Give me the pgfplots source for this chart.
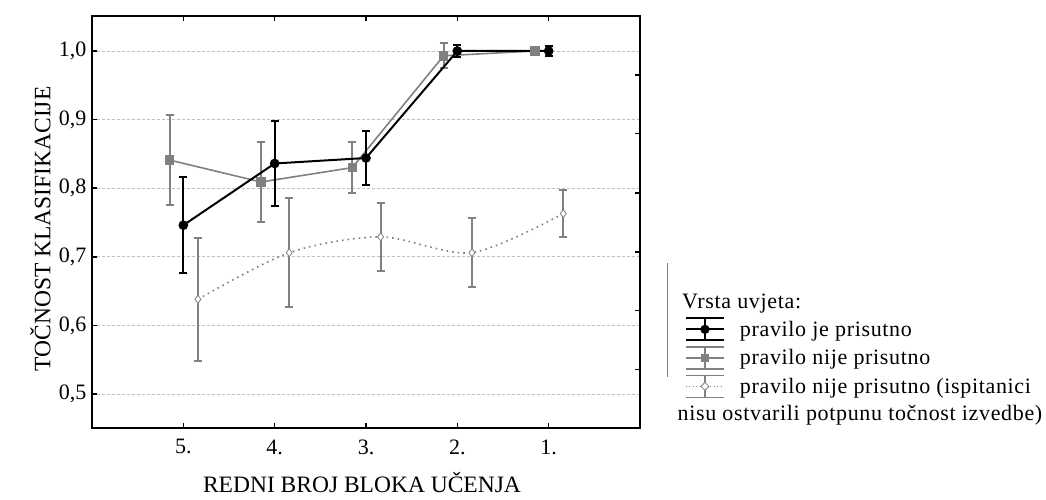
\documentclass[border=0pt]{standalone}
\usepackage{fontspec}
\setmainfont{Liberation Serif}
\newfontfamily\legfont{Liberation Serif}[LetterSpace=3]
\usepackage{pgfplots}
\pgfplotsset{compat=1.18}
\newcommand\ff{\fontsize{22pt}{26pt}\selectfont}
\newcommand\lf{\legfont\fontsize{22pt}{26pt}\selectfont}
\newcommand\af{\fontsize{23.5pt}{28pt}\selectfont}
\definecolor{sgray}{RGB}{128,128,128}
\definecolor{ggray}{RGB}{192,192,192}
\begin{document}
\begin{tikzpicture}
\useasboundingbox (-92pt,-72pt) rectangle (954pt,428pt);
\begin{axis}[
  at={(0pt,0pt)}, anchor=south west,
  scale only axis, width=548pt, height=412pt,
  xmin=0, xmax=6, ymin=0.4504, ymax=1.051,
  clip=false,
  xtick={1,2,3,4,5}, xticklabels={5.,4.,3.,2.,1.},
  ytick={0.5,0.6,0.7,0.8,0.9,1.0},
  ytick pos=left,
  /pgf/number format/assume math mode=true,
  yticklabel style={xshift=-2pt, /pgf/number format/.cd, fixed, fixed zerofill, precision=1, use comma},
  tick label style={font=\ff},
  xticklabel style={yshift=-8pt},
  tick align=inside, major tick length=5pt,
  every tick/.style={black, line width=1.5pt},
  axis line style={line width=2pt},
  ymajorgrids, grid style={ggray, dash pattern=on 3pt off 2pt, line width=0.8pt},
  ylabel={TOČNOST KLASIFIKACIJE},
  xlabel={REDNI BROJ BLOKA UČENJA},
  every axis y label/.style={at={(axis description cs:-0.094,0.483)}, rotate=90, anchor=center, font=\af},
  every axis x label/.style={at={(axis description cs:0.4927,-0.1335)}, anchor=center, font=\af},
  reverse legend,
  legend cell align=left,
  legend style={draw=none, fill=none, at={(axis cs:6.49,0.612)}, anchor=north west, font=\lf, inner sep=0pt, row sep=4.8pt,
     /tikz/every odd column/.append style={column sep=13pt}},
]
% diamonds: pravilo nije prisutno (ispitanici nisu ostvarili...)
\addplot[sgray, line width=1.6pt, dash pattern=on 1.6pt off 4pt, smooth, tension=0.5,
   mark=diamond*, mark size=4pt, mark options={solid, fill=white, draw=sgray, line width=0.8pt},
   legend image code/.code={
     \draw[sgray, solid, line width=1.6pt] (0pt,11pt)--(38pt,11pt) (0pt,-11pt)--(38pt,-11pt) (19pt,-11pt)--(19pt,11pt);
     \draw[sgray, line width=1pt, dash pattern=on 1pt off 2.5pt] (0pt,0pt)--(38pt,0pt);
     \draw[sgray, solid, fill=white, line width=0.8pt] (19pt,4pt)--(23pt,0pt)--(19pt,-4pt)--(15pt,0pt)--cycle;
   },
   error bars/.cd, y dir=both, y explicit,
   error bar style={solid, line width=2pt, sgray},
   error mark options={solid, rotate=90, mark size=4pt, line width=2pt, sgray},
   ]
   coordinates {
   (1.16,0.638) +- (0,0.090)
   (2.16,0.706) +- (0,0.079)
   (3.16,0.729) +- (0,0.050)
   (4.16,0.706) +- (0,0.050)
   (5.16,0.763) +- (0,0.034)
   };
\addlegendentry{pravilo nije prisutno (ispitanici}
% gray squares: pravilo nije prisutno
\addplot[sgray, line width=1.6pt,
   mark=square*, mark size=4pt, mark options={solid, fill=sgray, draw=sgray},
   legend image code/.code={
     \draw[sgray, line width=1.6pt] (0pt,11pt)--(38pt,11pt) (0pt,0pt)--(38pt,0pt) (0pt,-11pt)--(38pt,-11pt) (19pt,-11pt)--(19pt,11pt);
     \fill[sgray] (15.5pt,-3.5pt) rectangle (22.5pt,3.5pt);
   },
   error bars/.cd, y dir=both, y explicit,
   error bar style={line width=2pt, sgray},
   error mark options={rotate=90, mark size=4pt, line width=2pt, sgray},
   ]
   coordinates {
   (0.85,0.841) +- (0,0.066)
   (1.85,0.809) +- (0,0.058)
   (2.85,0.830) +- (0,0.037)
   (3.85,0.993) +- (0,0.018)
   (4.85,1.000) +- (0,0.005)
   };
\addlegendentry{pravilo nije prisutno}
% black circles: pravilo je prisutno
\addplot[black, line width=2pt,
   mark=*, mark size=3.8pt, mark options={solid, fill=black},
   legend image code/.code={
     \draw[black, line width=2pt] (0pt,11pt)--(38pt,11pt) (0pt,0pt)--(38pt,0pt) (0pt,-11pt)--(38pt,-11pt) (19pt,-11pt)--(19pt,11pt);
     \fill[black] (19pt,0pt) circle (3.6pt);
   },
   error bars/.cd, y dir=both, y explicit,
   error bar style={line width=2pt, black},
   error mark options={rotate=90, mark size=4pt, line width=2pt, black},
   ]
   coordinates {
   (1,0.746) +- (0,0.070)
   (2,0.836) +- (0,0.062)
   (3,0.844) +- (0,0.040)
   (4,1.000) +- (0,0.009)
   (5,1.000) +- (0,0.007)
   };
\addlegendentry{pravilo je prisutno}
\draw[sgray, line width=0.8pt] (axis cs:6.296,0.691) -- (axis cs:6.296,0.525);
\node[anchor=base west, font=\lf, inner sep=0pt] at (axis cs:6.46,0.624) {Vrsta uvjeta:};
\node[anchor=base west, font=\lf, inner sep=0pt] at (axis cs:6.41,0.4620) {nisu ostvarili potpunu točnost izvedbe)};
\end{axis}
\begin{axis}[
  at={(0pt,0pt)}, anchor=south west,
  scale only axis, width=548pt, height=412pt,
  xmin=0, xmax=6, ymin=0.4504, ymax=1.051,
  axis x line=none, axis y line*=right,
  axis line style={-, line width=2pt},
  ytick={0.965,0.880,0.793,0.707,0.622,0.536}, yticklabels={},
  tick align=inside, major tick length=5pt,
  every tick/.style={black, line width=1.5pt},
]
\end{axis}
\end{tikzpicture}
\end{document}
